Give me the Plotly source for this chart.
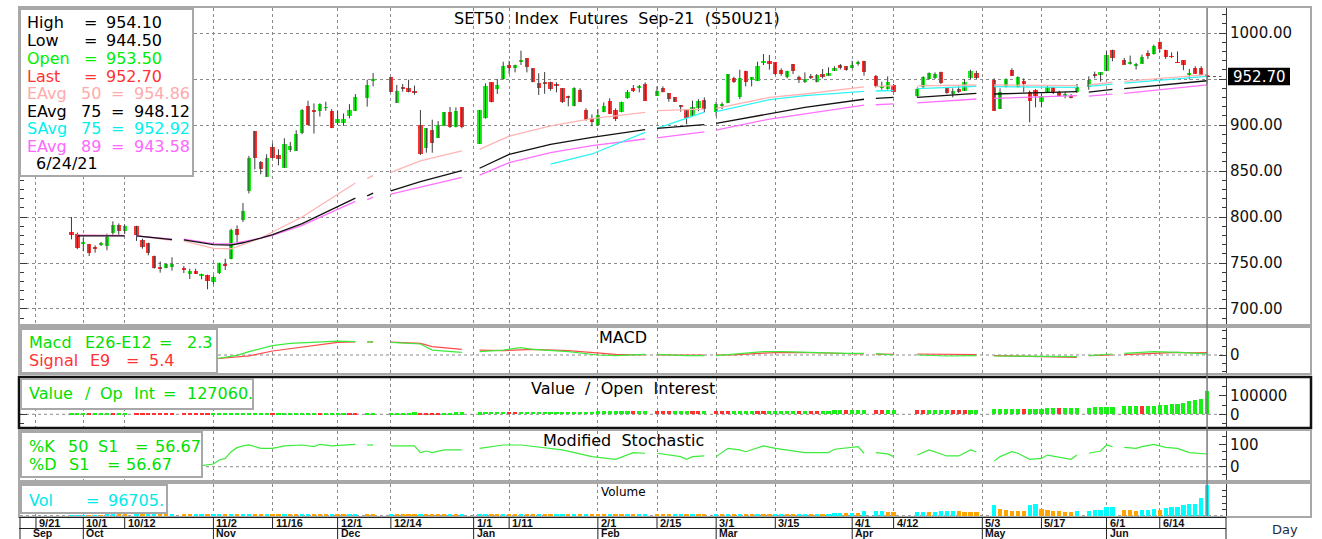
import pandas as pd
import plotly.graph_objects as go

W, H = 1322, 539

# ---------------- data ----------------
HOLIDAYS = ["2020-10-13", "2020-10-23", "2020-12-07", "2020-12-10", "2020-12-11",
            "2020-12-31", "2021-01-01", "2021-02-12", "2021-02-26", "2021-04-06",
            "2021-04-13", "2021-04-14", "2021-04-15", "2021-05-03", "2021-05-04",
            "2021-05-26", "2021-06-03"]
DATES = pd.bdate_range("2020-09-29", "2021-06-24", freq="C", holidays=HOLIDAYS)

OPEN = [783.7, 782.0,
        770.3, 770.3, 767.8, 770.0, 768.1, 782.6, 791.7, 784.8, 789.9, 775.4, 771.7, 757.6, 746.0, 744.6, 745.7, 744.6, 737.7, 741.7, 736.6, 737.0,
        729.1, 738.8, 748.2, 754.0, 786.6, 796.4, 828.2, 893.6, 859.8, 843.8, 876.5, 867.1, 853.6, 872.5, 871.8, 891.8, 920.9, 915.3, 915.5, 918.6, 914.7,
        902.0, 902.7, 910.0, 915.5, 928.9, 948.9, 951.8, 923.9, 940.2, 940.0, 937.0, 900.0, 875.0, 894.6, 885.9, 899.3, 914.5, 897.5, 919.2,
        879.4, 907.2, 946.4, 939.1, 950.0, 965.2, 961.6, 969.2, 972.5, 961.6, 945.3, 945.7, 947.1, 944.2, 939.9, 930.5, 921.0, 938.4, 916.7, 907.2,
        900.0, 914.5, 926.4, 916.3, 913.8, 929.0, 939.9, 941.0, 944.6, 931.9, 939.9, 934.8, 930.0, 921.7, 917.4, 909.4, 919.0, 927.5,
        913.8, 921.7, 923.9, 950.7, 930.0, 959.0, 949.3, 948.2, 968.1, 969.9, 968.1, 960.1, 952.5, 966.3, 951.8, 947.1, 952.9, 946.4, 955.4, 954.3, 959.0, 965.2, 963.8,
        961.6, 966.7, 969.9, 953.6, 940.6, 939.1, 943.5, 931.2, 940.9, 950.0, 950.7, 957.2, 940.9, 933.7, 939.1, 937.3, 950.7, 956.5,
        949.3, 917.4, 940.9, 960.1, 940.9, 948.2, 935.5, 938.4, 924.6, 936.2, 940.9, 935.5, 931.9, 931.9, 936.2, 940.9, 955.4, 955.4,
        958.5, 981.9, 970.4, 966.4, 964.6, 966.8, 978.3, 977.6, 989.9, 981.9, 974.4, 967.8, 970.4, 955.4, 962.1, 962.1, 953.5]
HIGH = [800.0, 783.0,
        777.0, 770.8, 769.2, 772.8, 781.9, 795.3, 793.0, 791.7, 790.5, 776.5, 772.0, 758.0, 751.6, 749.2, 756.2, 746.7, 743.8, 743.8, 738.4, 737.3,
        736.6, 750.4, 754.6, 787.3, 790.9, 815.2, 866.4, 893.6, 860.9, 868.2, 880.2, 873.6, 885.6, 881.6, 894.4, 917.3, 926.4, 923.5, 923.5, 925.3, 917.3,
        915.5, 912.5, 922.7, 933.6, 949.3, 956.5, 952.0, 943.5, 944.6, 949.3, 942.8, 916.3, 896.7, 905.8, 904.3, 914.0, 919.6, 919.2, 919.2,
        916.3, 945.3, 946.4, 950.0, 968.8, 969.9, 965.6, 980.8, 972.5, 961.6, 956.2, 957.6, 947.1, 946.4, 939.9, 931.9, 941.0, 939.9, 918.1, 911.6,
        917.4, 924.6, 929.0, 918.1, 925.4, 938.0, 943.5, 943.5, 946.4, 942.0, 942.0, 934.8, 930.0, 921.7, 917.4, 926.4, 928.0, 930.0,
        925.4, 924.6, 955.4, 952.5, 960.1, 959.0, 951.8, 968.8, 977.2, 976.1, 968.1, 961.6, 959.0, 966.3, 953.6, 957.2, 955.4, 955.4, 960.9, 962.7, 963.8, 966.3, 963.8,
        969.9, 969.9, 969.9, 954.3, 947.1, 952.9, 944.6, 940.9, 952.9, 957.2, 957.2, 958.0, 940.9, 939.9, 941.7, 950.0, 960.1, 959.0,
        950.7, 939.9, 950.7, 961.6, 952.9, 950.7, 937.3, 939.1, 933.7, 943.5, 940.9, 937.3, 936.2, 933.7, 944.6, 952.9, 958.0, 957.2,
        980.1, 981.9, 972.9, 975.5, 967.5, 976.5, 981.2, 987.4, 991.0, 981.9, 979.0, 980.0, 970.4, 961.0, 963.9, 963.9, 954.1]
LOW = [775.7, 765.0,
       762.7, 757.6, 761.2, 768.5, 763.8, 780.1, 780.1, 781.5, 774.0, 765.6, 758.3, 743.8, 739.5, 744.3, 741.7, 739.0, 732.6, 738.0, 732.2, 721.4,
       727.0, 738.0, 742.4, 754.0, 772.8, 794.6, 825.6, 851.8, 846.4, 843.8, 863.5, 856.2, 853.6, 870.7, 871.8, 890.0, 899.8, 890.7, 909.3, 915.5, 896.5,
       900.2, 899.1, 907.3, 915.5, 920.0, 942.0, 935.5, 923.9, 936.2, 935.5, 933.0, 867.4, 869.9, 869.9, 885.9, 899.0, 896.8, 897.5, 896.4,
       879.4, 906.9, 924.6, 933.7, 949.3, 955.4, 957.2, 965.2, 957.2, 946.4, 932.6, 934.0, 937.3, 935.5, 923.9, 920.3, 920.3, 925.4, 904.7, 898.6,
       899.3, 913.8, 912.0, 904.3, 913.8, 928.6, 935.9, 935.5, 926.4, 931.9, 935.5, 925.4, 925.4, 914.5, 901.0, 909.4, 915.0, 913.8,
       909.4, 917.4, 923.9, 945.7, 928.3, 942.0, 942.0, 948.2, 965.2, 960.1, 954.3, 953.6, 950.7, 955.4, 945.7, 945.7, 950.0, 946.4, 950.7, 953.6, 959.0, 960.5, 959.0,
       961.6, 964.5, 953.6, 940.9, 938.4, 938.4, 935.5, 930.1, 939.9, 949.3, 950.0, 944.6, 934.0, 930.1, 934.8, 937.3, 950.0, 950.0,
       915.6, 917.4, 940.9, 953.6, 940.9, 935.5, 902.9, 919.2, 919.2, 934.8, 933.7, 931.2, 929.0, 929.0, 934.8, 938.4, 950.7, 947.1,
       958.5, 969.3, 965.7, 965.7, 960.3, 966.8, 971.8, 976.5, 979.0, 971.8, 972.9, 967.4, 959.6, 949.5, 956.0, 954.9, 944.5]
CLOSE = [780.1, 766.3,
         772.8, 761.2, 766.0, 771.0, 777.9, 791.7, 784.4, 789.9, 780.1, 767.4, 761.2, 744.9, 743.8, 748.9, 749.3, 742.0, 741.7, 738.4, 737.5, 730.5,
         735.1, 750.4, 747.5, 786.2, 780.8, 806.5, 863.8, 863.8, 851.8, 863.8, 864.5, 862.7, 879.8, 876.9, 890.7, 916.2, 899.8, 914.5, 922.4, 919.4, 896.5,
         906.4, 906.4, 916.2, 930.7, 943.5, 949.6, 936.0, 937.3, 939.5, 936.2, 935.5, 868.5, 896.7, 880.4, 900.0, 913.8, 897.5, 915.6, 897.5,
         916.3, 942.8, 925.4, 943.5, 964.5, 961.6, 965.6, 970.5, 962.7, 947.1, 939.9, 945.0, 939.1, 943.2, 924.6, 930.0, 939.9, 925.4, 905.8, 902.9,
         910.9, 920.3, 912.0, 906.5, 924.6, 936.2, 937.0, 942.0, 926.4, 937.3, 936.2, 928.3, 925.4, 920.3, 907.2, 919.2, 926.0, 917.4,
         922.8, 922.8, 955.4, 946.4, 950.7, 946.4, 951.8, 963.8, 969.2, 966.3, 955.4, 955.4, 959.0, 959.0, 950.0, 950.0, 951.1, 954.3, 951.8, 956.1, 961.6, 961.6, 960.1,
         965.2, 967.4, 957.2, 942.0, 942.0, 947.1, 935.5, 939.1, 951.8, 956.5, 955.1, 945.7, 934.8, 937.3, 935.5, 946.4, 958.3, 950.7,
         915.6, 935.5, 950.0, 953.6, 951.8, 944.6, 926.4, 931.2, 931.2, 940.9, 935.5, 931.9, 933.7, 930.1, 940.9, 949.3, 952.9, 957.2,
         976.5, 972.9, 965.7, 967.5, 965.0, 974.0, 975.5, 985.6, 982.7, 974.0, 974.0, 967.5, 965.7, 956.5, 956.0, 954.9, 952.7]

VOLUME = [900, 1300,
          1700, 1500, 2100, 1900, 2400, 2800, 2500, 2300, 2700, 2400, 2900, 3300, 3000, 2800, 3200, 2900, 2600, 3100, 3500, 3200,
          3600, 4200, 3800, 4600, 4100, 5000, 5600, 4800, 4400, 4900, 4500, 4100, 4700, 4300, 4000, 4600, 5200, 4800, 4400, 4100, 4700,
          4300, 4000, 4500, 4900, 4500, 4200, 4800, 4400, 4100, 3900, 3600, 5500, 5000, 4600, 4200, 3900, 4400, 4100, 4500,
          5200, 5800, 5300, 4900, 5400, 5000, 4600, 5100, 4700, 4400, 4800, 4500, 4200, 4600, 5000, 4700, 5300, 4900, 5400, 5000,
          4700, 4400, 4900, 4500, 4200, 4600, 4300, 4800, 5200, 4800, 4500, 4200, 4700, 5100, 4800, 5300, 4900, 4600,
          5000, 4700, 5500, 5100, 5600, 5200, 4900, 5400, 5000, 4700, 5200, 5700, 5300, 4900, 5400, 5900, 5500, 6100, 5600, 6200, 7500, 8200, 7600,
          9500, 8800, 13500, 14200, 14800, 12400, 11800, 12000, 12600, 11000, 12300, 15500, 16000, 16500, 15800, 13000, 12200, 11500,
          33000, 21000, 18500, 16500, 15500, 14800, 34000, 36000, 20500, 19500, 16500, 13500, 12800, 12000, 14500, 16000, 16800, 17500,
          28000, 28500, 18500, 17500, 16000, 19000, 19500, 20500, 18500, 26000, 26500, 27000, 32500, 36000, 38000, 55000, 96705]

OPEN_INT = [2000, 2300,
            2600, 2500, 2800, 3000, 3200, 3100, 3300, 3500, 3400, 3300, 3100, 3000, 2900, 2800, 2700, 2600, 2500, 2400, 2300, 2200,
            2400, 2700, 3000, 3300, 3600, 3900, 4200, 4500, 4800, 5100, 5000, 5300, 5600, 5900, 6200, 6500, 6800, 7100, 7000, 7300, 7600,
            7900, 8200, 8000, 7800, 8100, 8400, 8700, 9000, 9300, 9600, 9900, 9700, 9500, 9300, 9100, 9400, 9700, 10000, 10300,
            10600, 10900, 11200, 11500, 11800, 11600, 11400, 11700, 12000, 12300, 12600, 12900, 13200, 13500, 13800, 14100, 14400, 14700, 15000, 15300,
            15600, 15900, 16200, 16500, 16800, 17100, 16900, 17200, 17500, 17300, 17100, 16900, 17200, 17500, 17800, 17600, 17400, 17700,
            17500, 17300, 17100, 17400, 17700, 18000, 18300, 18100, 17900, 18200, 19500, 19800, 20100, 20400, 20200, 20500, 20300, 20100, 20400, 20700, 21000, 21300, 21100,
            21400, 21700, 22000, 21800, 21600, 21900, 22200, 21900, 21600, 21900, 22200, 22500, 22800, 22600, 22400, 22200, 22500, 22800,
            27000, 27500, 28000, 28500, 29000, 28300, 29500, 30500, 31500, 32500, 33000, 32200, 33000, 33500, 34000, 37000, 38000, 38500,
            40000, 41000, 44000, 45000, 46000, 45000, 46500, 48000, 50000, 52000, 54000, 56000, 62000, 70000, 78000, 85000, 127060]

# moving averages (knots; None = holiday break)
MA_DATES = ["2020-09-30", "2020-10-12", "2020-10-13", "2020-10-14", "2020-10-22", "2020-10-23", "2020-10-26",
            "2020-11-02", "2020-11-05", "2020-11-09", "2020-11-12", "2020-11-16", "2020-11-23", "2020-12-04",
            "2020-12-07", "2020-12-08", "2020-12-09", "2020-12-10", "2020-12-14", "2020-12-21", "2020-12-30",
            "2020-12-31", "2021-01-04", "2021-01-11", "2021-01-20", "2021-01-29", "2021-02-11", "2021-02-12",
            "2021-02-15", "2021-02-25", "2021-02-26", "2021-03-01", "2021-03-12", "2021-03-22", "2021-04-05",
            "2021-04-06", "2021-04-07", "2021-04-12", "2021-04-13", "2021-04-16", "2021-04-30", "2021-05-03",
            "2021-05-05", "2021-05-25", "2021-05-26", "2021-05-27", "2021-06-02", "2021-06-03", "2021-06-04",
            "2021-06-24"]
EAVG50 = [780.5, 780.0, None, 779.5, 774.5, None, 774.0, 766.0, 765.5, 770.0, 777.0, 783.7, 800.0, 837.0,
          None, 842.0, 845.0, None, 848.5, 861.0, 872.0, None, 873.5, 888.0, 899.0, 907.0, 913.8, None,
          915.6, 917.2, None, 918.0, 930.0, 933.7, 941.5, None, 942.0, 942.8, None, 942.5, 943.5, None,
          943.5, 942.8, None, 943.5, 946.5, None, 947.5, 954.86]
EAVG75 = [779.5, 779.5, None, 779.5, 775.5, None, 775.2, 770.0, 769.5, 772.0, 777.0, 780.8, 792.8, 820.6,
          None, 823.0, 826.0, None, 828.5, 838.5, 850.4, None, 853.0, 868.0, 879.0, 886.5, 894.9, None,
          896.4, 900.4, None, 901.8, 912.0, 919.2, 928.0, None, 929.0, 930.0, None, 930.0, 934.4, None,
          933.7, 936.2, None, 935.8, 938.8, None, 939.5, 948.12]
SAVG75 = [None, None, None, None, None, None, None, None, None, None, None, None, None, None,
          None, None, None, None, None, None, None, None, None, None, 857.6, 868.5, 892.0, None,
          896.4, 914.0, None, 914.5, 927.5, 931.9, 936.5, None, 937.0, 937.5, None, 939.5, 942.0, None,
          941.7, 941.0, None, 942.0, 944.5, None, 945.5, 952.92]
EAVG89 = [780.0, 779.8, None, 779.5, 776.0, None, 775.8, 771.0, 770.8, 773.0, 777.0, 780.0, 791.0, 817.0,
          None, 819.0, 821.5, None, 825.0, 832.5, 843.1, None, 845.5, 859.0, 870.0, 877.5, 884.8, None,
          886.0, 892.5, None, 894.5, 906.5, 912.0, 921.5, None, 922.0, 923.0, None, 924.0, 928.3, None,
          929.0, 931.9, None, 931.5, 933.5, None, 934.5, 943.58]

MACD_DATES = ["2020-11-02", "2020-11-06", "2020-11-10", "2020-11-16", "2020-11-19", "2020-11-23", "2020-11-27",
              "2020-12-01", "2020-12-04", "2020-12-07", "2020-12-08", "2020-12-09", "2020-12-10", "2020-12-14",
              "2020-12-18", "2020-12-21", "2020-12-23", "2020-12-30", "2020-12-31", "2021-01-04", "2021-01-08",
              "2021-01-13", "2021-01-15", "2021-01-25", "2021-02-01", "2021-02-04", "2021-02-11", "2021-02-12",
              "2021-02-15", "2021-02-22", "2021-02-25", "2021-02-26", "2021-03-01", "2021-03-04", "2021-03-11",
              "2021-03-16", "2021-03-23", "2021-03-31", "2021-04-05", "2021-04-06", "2021-04-07", "2021-04-12",
              "2021-04-13", "2021-04-16", "2021-04-23", "2021-04-30", "2021-05-03", "2021-05-05", "2021-05-14",
              "2021-05-25", "2021-05-26", "2021-05-27", "2021-05-31", "2021-06-02", "2021-06-03", "2021-06-04",
              "2021-06-11", "2021-06-17", "2021-06-22", "2021-06-24"]
MACD = [-8.9, -0.7, 7.4, 20.7, 25.9, 27.0, 30.0, 31.0, 29.6, None, 29.0, 28.5, None, 28.1,
        25.0, 24.4, 11.0, 5.9, None, 7.4, 11.0, 16.3, 12.6, 7.4, 0.0, -1.5, 1.5, None,
        1.5, -1.5, -1.5, None, -1.5, 1.5, 7.4, 7.4, 5.2, 3.7, 3.7, None, 3.0, 0.0,
        None, 0.0, -2.2, -1.5, None, -2.2, -3.7, -3.7, None, -1.5, 0.0, 2.2, None, 3.7,
        7.4, 5.9, 3.7, 2.3]
SIGNAL = [-8.9, -5.2, -2.0, 8.9, 14.5, 18.5, 26.0, 28.1, 29.0, None, 29.0, 29.0, None, 28.5,
          27.0, 26.0, 18.5, 12.6, None, 11.0, 9.6, 11.5, 12.6, 9.6, 3.7, 1.5, 0.0, None,
          0.0, 0.0, 0.0, None, 0.0, 0.5, 4.0, 5.9, 5.5, 3.7, 2.2, None, 2.0, 1.5,
          None, 2.2, 1.5, 0.7, None, -1.5, -3.0, -5.2, None, -1.5, -0.5, 0.0, None, 1.0,
          3.7, 5.9, 5.0, 5.4]

STOCH_DATES = ["2020-10-29", "2020-11-02", "2020-11-03", "2020-11-04", "2020-11-05", "2020-11-06", "2020-11-09",
               "2020-11-10", "2020-11-12", "2020-11-16", "2020-11-18", "2020-11-23", "2020-11-25", "2020-11-26",
               "2020-11-30", "2020-12-04", "2020-12-07", "2020-12-08", "2020-12-09", "2020-12-10", "2020-12-14",
               "2020-12-18", "2020-12-21", "2020-12-22", "2020-12-23", "2020-12-25", "2020-12-30", "2020-12-31",
               "2021-01-04", "2021-01-08", "2021-01-13", "2021-01-22", "2021-01-29", "2021-02-04", "2021-02-09",
               "2021-02-11", "2021-02-12", "2021-02-15", "2021-02-19", "2021-02-22", "2021-02-23", "2021-02-25",
               "2021-02-26", "2021-03-01", "2021-03-03", "2021-03-05", "2021-03-08", "2021-03-11", "2021-03-15",
               "2021-03-22", "2021-03-26", "2021-03-29", "2021-04-02", "2021-04-05", "2021-04-06", "2021-04-07",
               "2021-04-09", "2021-04-12", "2021-04-13", "2021-04-16", "2021-04-20", "2021-04-23", "2021-04-27",
               "2021-04-29", "2021-04-30", "2021-05-03", "2021-05-05", "2021-05-06", "2021-05-10", "2021-05-11",
               "2021-05-13", "2021-05-17", "2021-05-18", "2021-05-20", "2021-05-24", "2021-05-25", "2021-05-26",
               "2021-05-27", "2021-05-31", "2021-06-01", "2021-06-02", "2021-06-03", "2021-06-04", "2021-06-08",
               "2021-06-09", "2021-06-11", "2021-06-15", "2021-06-17", "2021-06-21", "2021-06-24"]
STOCH_K = [4.5, 12, 30, 37, 67, 85, 92.7, 97, 82, 82, 93, 97, 89.6, 100,
           93, 100, None, 97, 97, None, 93, 93, 63, 70, 63, 75, 75, None,
           82, 97, 97, 75, 45, 33, 63, 60, None, 60, 45, 33, 45, 48,
           None, 45, 82, 75, 67, 93, 82, 63, 63, 78, 89.6, 60, None, 63,
           57, 45, None, 52, 75, 48, 48, 75, 67, None, 25, 45, 67, 60,
           33, 37, 52, 42, 33, 52, None, 60, 70, 97, 89.6, None, 86, 82,
           89.6, 100, 86, 82, 63, 56.67]

TICK_DATES = ["2020-09-21", "2020-10-01", "2020-10-12", "2020-11-02", "2020-11-16", "2020-12-01", "2020-12-14",
              "2021-01-01", "2021-01-11", "2021-02-01", "2021-02-15", "2021-03-01", "2021-03-15", "2021-04-01",
              "2021-04-12", "2021-05-03", "2021-05-17", "2021-06-01", "2021-06-14"]
TICK_LABELS = ["9/21", "10/1", "10/12", "11/2", "11/16", "12/1", "12/14", "1/1", "1/11", "2/1", "2/15",
               "3/1", "3/15", "4/1", "4/12", "5/3", "5/17", "6/1", "6/14"]
MONTH_DATES = ["2020-09-21", "2020-10-01", "2020-11-02", "2020-12-01", "2021-01-01", "2021-02-01",
               "2021-03-01", "2021-04-01", "2021-05-03", "2021-06-01"]
MONTH_LABELS = ["Sep", "Oct", "Nov", "Dec", "Jan", "Feb", "Mar", "Apr", "May", "Jun"]
PRICE_TICKS = [700, 750, 800, 850, 900, 950, 1000]

n = len(DATES)
for arr in (OPEN, HIGH, LOW, CLOSE, VOLUME, OPEN_INT):
    assert len(arr) == n, (len(arr), n)
assert len(MA_DATES) == len(EAVG50) == len(EAVG75) == len(SAVG75) == len(EAVG89)
assert len(MACD_DATES) == len(MACD) == len(SIGNAL)
assert len(STOCH_DATES) == len(STOCH_K)

# ---------------- style ----------------
FONT = "DejaVu Sans"
GREEN = "#18F018"
RED = "#FF3232"
CYAN = "#00FFFF"
ORANGE = "#FFA500"
PINK = "#FFB4B4"
MAGENTA = "#FF70FF"
GRID = "#8a8a8a"
DAY = 86400000


def px(x):
    return x / W


def py(y):
    return 1 - y / H


fig = go.Figure()

# candle wicks
wx, wy = [], []
for d, lo, hi in zip(DATES, LOW, HIGH):
    wx += [d, d, None]
    wy += [lo, hi, None]
fig.add_trace(go.Scatter(x=wx, y=wy, mode="lines", line=dict(color="#3c3c3c", width=1),
                         xaxis="x", yaxis="y", hoverinfo="skip"))
# candle bodies
fig.add_trace(go.Bar(x=DATES, base=[min(o, c) for o, c in zip(OPEN, CLOSE)],
                     y=[max(abs(c - o), 0.9) for o, c in zip(OPEN, CLOSE)],
                     marker=dict(color=[GREEN if c > o else RED for o, c in zip(OPEN, CLOSE)], line=dict(width=0)),
                     width=0.72 * DAY, xaxis="x", yaxis="y"))
# moving averages
for vals, col, wdt in ((EAVG50, PINK, 1.3), (EAVG89, MAGENTA, 1.3), (SAVG75, "#30F4F4", 1.3), (EAVG75, "#111111", 1.3)):
    fig.add_trace(go.Scatter(x=MA_DATES, y=vals, mode="lines", connectgaps=False,
                             line=dict(color=col, width=wdt), xaxis="x", yaxis="y"))

# MACD
fig.add_trace(go.Scatter(x=MACD_DATES, y=SIGNAL, mode="lines", connectgaps=False,
                         line=dict(color="#FF4A4A", width=1.2), xaxis="x2", yaxis="y2"))
fig.add_trace(go.Scatter(x=MACD_DATES, y=MACD, mode="lines", connectgaps=False,
                         line=dict(color="#3CEB3C", width=1.2), xaxis="x2", yaxis="y2"))

# Value / Open Interest
oi_col = [GREEN] + [GREEN if OPEN_INT[i] >= OPEN_INT[i - 1] else RED for i in range(1, n)]
fig.add_trace(go.Bar(x=DATES, y=OPEN_INT, marker=dict(color=oi_col, line=dict(width=0)),
                     width=0.7 * DAY, xaxis="x3", yaxis="y3"))

# Modified stochastic
fig.add_trace(go.Scatter(x=STOCH_DATES, y=STOCH_K, mode="lines", connectgaps=False,
                         line=dict(color="#3CEB3C", width=1.2), xaxis="x4", yaxis="y4"))

# Volume
vol_col = [CYAN] + [CYAN if VOLUME[i] >= VOLUME[i - 1] else ORANGE for i in range(1, n)]
fig.add_trace(go.Bar(x=DATES, y=VOLUME, marker=dict(color=vol_col, line=dict(width=0)),
                     width=0.72 * DAY, xaxis="x5", yaxis="y5"))

# ---------------- axes ----------------
X_DOM = [px(20), px(1226)]
X_RANGE = ["2020-09-16 07:12", "2021-06-29 04:48"]
xbase = dict(domain=X_DOM, range=X_RANGE, type="date", rangebreaks=[dict(bounds=["sat", "mon"])],
             tickmode="array", tickvals=TICK_DATES, showticklabels=False, ticks="",
             showgrid=True, gridcolor=GRID, griddash="dot", gridwidth=1, zeroline=False, showline=False,
             fixedrange=True)
layout_axes = {}
for i, anc in enumerate(["y", "y2", "y3", "y4", "y5"]):
    key = "xaxis" if i == 0 else f"xaxis{i + 1}"
    d = dict(xbase, anchor=anc)
    if i > 0:
        d["matches"] = "x"
    layout_axes[key] = d

ybase = dict(side="right", showline=True, linecolor="#3a3a3a", linewidth=1, mirror="ticks",
             ticks="inside", ticklen=7, tickcolor="#3a3a3a", tickfont=dict(family=FONT, size=15, color="#111"),
             showgrid=False, zeroline=False, fixedrange=True)

layout_axes["yaxis"] = dict(ybase, anchor="x", domain=[py(325), py(8)], range=[682.6, 1027.2],
                            tickmode="array", tickvals=PRICE_TICKS,
                            ticktext=["" if v == 950 else f"{v:.2f}" for v in PRICE_TICKS],
                            showgrid=True, gridcolor=GRID, griddash="dot", gridwidth=1,
                            minor=dict(ticks="inside", ticklen=4, tick0=0, dtick=10, tickcolor="#3a3a3a", showgrid=False))
layout_axes["yaxis2"] = dict(ybase, anchor="x2", domain=[py(373), py(328)], range=[-40, 60],
                             tickmode="array", tickvals=[0], ticktext=["0"],
                             minor=dict(ticks="inside", ticklen=4, tick0=0, dtick=18, tickcolor="#3a3a3a", showgrid=False))
layout_axes["yaxis3"] = dict(ybase, anchor="x3", domain=[py(427), py(378)], range=[-69400, 198300],
                             tickmode="array", tickvals=[0, 100000], ticktext=["0", "100000"],
                             minor=dict(ticks="inside", ticklen=4, tick0=0, dtick=50000, tickcolor="#3a3a3a", showgrid=False))
layout_axes["yaxis4"] = dict(ybase, anchor="x4", domain=[py(481), py(431)], range=[-63.8, 159.4],
                             tickmode="array", tickvals=[0, 100], ticktext=["0", "100"],
                             minor=dict(ticks="inside", ticklen=4, tick0=0, dtick=100 / 3, tickcolor="#3a3a3a", showgrid=False))
layout_axes["yaxis5"] = dict(ybase, anchor="x5", domain=[py(516), py(484)], range=[-1000, 101000],
                             tickmode="array", tickvals=[], showticklabels=False,
                             minor=dict(ticks="inside", ticklen=4, tick0=0, dtick=20000, tickcolor="#3a3a3a", showgrid=False))

# ---------------- shapes ----------------
shapes = []


def rect(x0, y0, x1, y1, color="#A8A8A8", width=2, fill=None, layer="above"):
    shapes.append(dict(type="rect", xref="paper", yref="paper", x0=px(x0), x1=px(x1), y0=py(y1), y1=py(y0),
                       line=dict(color=color, width=width), fillcolor=fill if fill else "rgba(0,0,0,0)", layer=layer))


def hline(x0, x1, y, color="#222", width=1):
    shapes.append(dict(type="line", xref="paper", yref="paper", x0=px(x0), x1=px(x1), y0=py(y), y1=py(y),
                       line=dict(color=color, width=width), layer="above"))


# dotted zero lines of the indicator panels
for yr in ("y2", "y3", "y4", "y5"):
    shapes.append(dict(type="line", xref="paper", yref=yr, x0=X_DOM[0], x1=X_DOM[1], y0=0, y1=0,
                       line=dict(color=GRID, width=1, dash="dot"), layer="below"))

# panel frames
rect(19, 7, 1311, 325)
rect(19, 327, 1311, 374)
rect(19, 377, 1311, 428, color="#111", width=2.5)
rect(19, 430, 1311, 481)
rect(19, 483, 1311, 517)
# date axis
hline(19, 1226, 517.5, "#222", 1)
hline(19, 1226, 528.5, "#222", 1)
shapes.append(dict(type="line", xref="paper", yref="paper", x0=px(20), x1=px(20), y0=py(539), y1=py(517),
                   line=dict(color="#222", width=1)))
shapes.append(dict(type="line", xref="paper", yref="paper", x0=px(1226), x1=px(1226), y0=py(539), y1=py(517),
                   line=dict(color="#222", width=1)))
for d in TICK_DATES:
    shapes.append(dict(type="line", xref="x5", yref="paper", x0=d, x1=d, y0=py(528.5), y1=py(517.5),
                       line=dict(color="#222", width=1)))
for d in MONTH_DATES[1:]:
    shapes.append(dict(type="line", xref="x5", yref="paper", x0=d, x1=d, y0=py(539), y1=py(528.5),
                       line=dict(color="#222", width=1)))
# cursor line on last bar
shapes.append(dict(type="line", xref="x", yref="paper", x0=DATES[-1], x1=DATES[-1], y0=py(516), y1=py(8),
                   line=dict(color="#7a7a7a", width=1.5), layer="above"))
# legend boxes
rect(20, 9, 193, 176, fill="white")
rect(21, 329, 217, 373, fill="white")
rect(21, 379, 253, 409, fill="white")
rect(21, 432, 202, 477, fill="white")
rect(21, 485, 167, 513, fill="white")
# last price tag
shapes.append(dict(type="rect", xref="paper", yref="y", x0=px(1228), x1=px(1290), y0=CLOSE[-1] - 9.5,
                   y1=CLOSE[-1] + 9.5, fillcolor="black", line=dict(width=0), layer="above"))
shapes.append(dict(type="line", xref="x", yref="y", x0=DATES[-1], x1="2021-06-28 10:00", y0=CLOSE[-1], y1=CLOSE[-1],
                   line=dict(color="#555", width=1, dash="dot"), layer="above"))

# ---------------- text ----------------
ann = []


def txt(x, y, s, color="black", size=16, anchor="left", bold=False, family=FONT, xref="paper", yref="paper"):
    ann.append(dict(x=px(x) if xref == "paper" else x, y=py(y) if yref == "paper" else y, xref=xref, yref=yref,
                    text=f"<b>{s}</b>" if bold else s, showarrow=False, xanchor=anchor, yanchor="middle",
                    font=dict(family=family, size=size, color=color)))


NB = "\u00a0"
txt(617, 18, f"SET50{NB*2}Index{NB*2}Futures{NB*2}Sep-21{NB*2}(S50U21)", size=16, anchor="center")
txt(623, 337, "MACD", size=16, anchor="center")
txt(623, 388, f"Value{NB*2}/{NB*2}Open{NB*2}Interest", size=16, anchor="center")
txt(623, 440, f"Modified{NB*2}Stochastic", size=16, anchor="center")
txt(623, 492, "Volume", size=12, anchor="center")

# price legend
rows = [("High", None, "954.10", "black"), ("Low", None, "944.50", "black"),
        ("Open", None, "953.50", "#00EE00"), ("Last", None, "952.70", "#FF3333"),
        ("EAvg", "50", "954.86", "#FFAAAA"), ("EAvg", "75", "948.12", "black"),
        ("SAvg", "75", "952.92", "#00F0F0"), ("EAvg", "89", "943.58", "#FF66FF")]
ys = [22.5, 40.5, 58.3, 76, 93.5, 111, 128.5, 146.2]
for (lab, num, val, col), y in zip(rows, ys):
    txt(25, y, lab, col)
    if num is None:
        txt(82, y, "=", col)
        txt(104, y, val, col)
    else:
        txt(79, y, num, col)
        txt(109, y, "=", col)
        txt(132, y, val, col)
txt(34, 163.5, "6/24/21", "black")

# MACD legend
G2 = "#00E000"
txt(27, 342.5, "Macd", G2); txt(83, 342.5, "E26-E12", G2); txt(157, 342.5, "=", G2); txt(185, 342.5, "2.3", G2)
txt(27, 360.5, "Signal", "#FF3333"); txt(88, 360.5, "E9", "#FF3333"); txt(124, 360.5, "=", "#FF3333"); txt(147, 360.5, "5.4", "#FF3333")
# OI legend
txt(27, 393, "Value", G2); txt(83, 393, "/", G2); txt(98, 393, "Op", G2); txt(132, 393, "Int", G2)
txt(161, 393, "=", G2); txt(185, 393, "127060.", G2)
# Stoch legend
txt(27, 446, "%K", G2); txt(66, 446, "50", G2); txt(96, 446, "S1", G2); txt(133, 446, "=", G2); txt(153, 446, "56.67", G2)
txt(27, 464, "%D", G2); txt(67, 464, "S1", G2); txt(105, 464, "=", G2); txt(124, 464, "56.67", G2)
# Vol legend
txt(27, 500, "Vol", "#00E8E8"); txt(84, 500, "=", "#00E8E8"); txt(106, 500, "96705.", "#00E8E8")

# last price tag text
ann.append(dict(x=px(1259), y=CLOSE[-1], xref="paper", yref="y", text=f"{CLOSE[-1]:.2f}", showarrow=False,
                xanchor="center", yanchor="middle", font=dict(family=FONT, size=15, color="white")))

# date axis labels
for d, s in zip(TICK_DATES, TICK_LABELS):
    ann.append(dict(x=d, y=py(523), xref="x5", yref="paper", text=f"<b>{s}</b>", showarrow=False,
                    xanchor="left", yanchor="middle", xshift=1,
                    font=dict(family="Liberation Sans", size=11, color="#111")))
for i, (d, s) in enumerate(zip(MONTH_DATES, MONTH_LABELS)):
    ann.append(dict(x=d, y=py(532.5), xref="x5", yref="paper", text=f"<b>{s}</b>", showarrow=False,
                    xanchor="left", yanchor="middle", xshift=-5 if i == 0 else 1,
                    font=dict(family="Liberation Sans", size=10.5, color="#111")))
txt(1285, 529, "Day", "#1f2a44", size=13, anchor="center")

fig.update_layout(width=W, height=H, margin=dict(l=0, r=0, t=0, b=0), paper_bgcolor="white",
                  plot_bgcolor="white", showlegend=False, barmode="overlay", bargap=0,
                  shapes=shapes, annotations=ann, **layout_axes)

fig.write_html("out.html", config={"displayModeBar": False},
               post_script="document.body.style.margin='0';document.body.style.overflow='hidden';")
